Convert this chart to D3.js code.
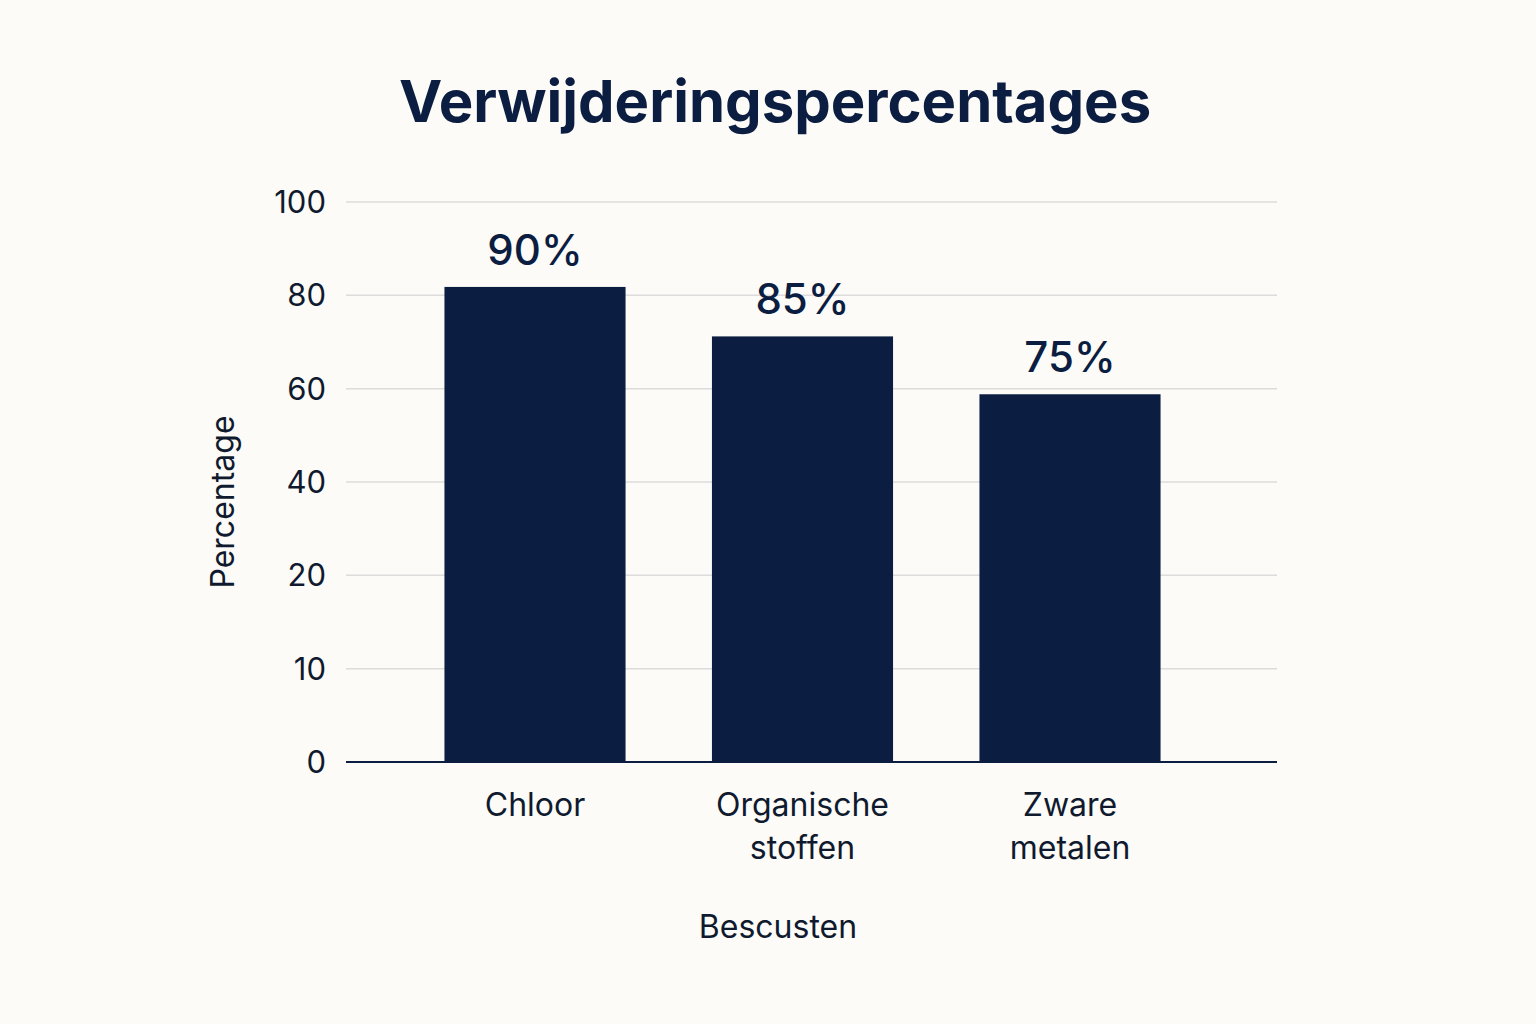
<!DOCTYPE html>
<html><head><meta charset="utf-8">
<script src="https://cdn.jsdelivr.net/npm/d3@7"></script>
<style>body{margin:0;background:#fcfbf8;}text{font-family:Inter,"Noto Sans",sans-serif;}</style>
</head><body><svg id="c" width="1536" height="1024"></svg>
<script>
const categories = [["Chloor"], ["Organische","stoffen"], ["Zware","metalen"]];
const barValues = [81.8, 71.2, 58.8];
const barLabels = ["90%", "85%", "75%"];
const tickValues = [0, 10, 20, 40, 60, 80, 100];

const svg = d3.select("#c");
const navy = "#0b1d40";
const ink = "#101a2e";
const y = d3.scaleLinear().domain(tickValues)
  .range(tickValues.map((d,i)=>762 - i*(560/6)));
const x = d3.scaleBand().domain(d3.range(categories.length))
  .range([401.25, 1203.75]).paddingInner(0.323).paddingOuter(0.1615);

svg.append("text").attr("x",775).attr("y",122).attr("text-anchor","middle")
  .attr("font-size",58).attr("font-weight",700).attr("fill",navy).text("Verwijderingspercentages");

const g = svg.append("g");
tickValues.forEach(t=>{
  if(t>0) g.append("line").attr("x1",346).attr("x2",1277).attr("y1",y(t)).attr("y2",y(t))
    .attr("stroke","#dcdcdc").attr("stroke-width",1.5);
  g.append("text").attr("x",326).attr("y",y(t)).attr("dy","0.35em").attr("text-anchor","end")
    .attr("font-size",31).attr("fill",ink).text(t);
});

g.selectAll("rect.bar").data(barValues).join("rect")
  .attr("x",(d,i)=>x(i)).attr("width",x.bandwidth())
  .attr("y",d=>y(d)).attr("height",d=>762-y(d)).attr("fill",navy);

g.selectAll("text.lbl").data(barValues).join("text")
  .attr("x",(d,i)=>x(i)+x.bandwidth()/2).attr("y",d=>y(d)-22)
  .attr("text-anchor","middle").attr("font-size",42).attr("font-weight",500).attr("fill",navy)
  .text((d,i)=>barLabels[i]);

g.append("line").attr("x1",346).attr("x2",1277).attr("y1",762).attr("y2",762)
  .attr("stroke",navy).attr("stroke-width",2);

categories.forEach((lines,i)=>{
  const t = g.append("text").attr("x",x(i)+x.bandwidth()/2).attr("y",816)
    .attr("text-anchor","middle").attr("font-size",32).attr("fill",ink);
  lines.forEach((l,j)=>t.append("tspan").attr("x",x(i)+x.bandwidth()/2).attr("dy",j?43:0).text(l));
});

svg.append("text").attr("x",778).attr("y",938).attr("text-anchor","middle")
  .attr("font-size",32).attr("fill",ink).text("Bescusten");
svg.append("text").attr("transform","translate(234,502) rotate(-90)").attr("text-anchor","middle")
  .attr("font-size",32).attr("fill",ink).text("Percentage");
</script></body></html>
